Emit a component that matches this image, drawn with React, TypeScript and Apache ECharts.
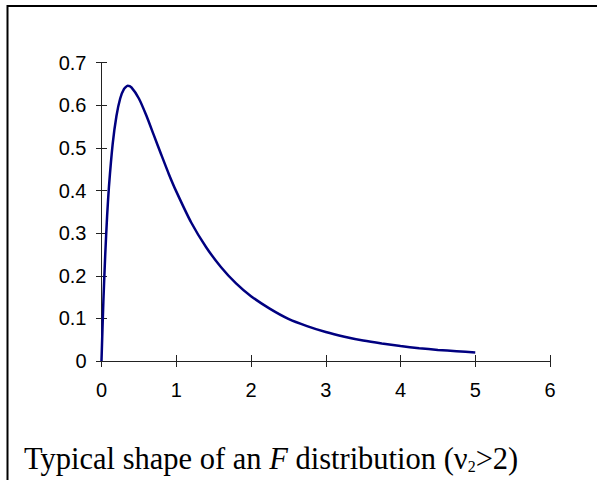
import React, { useEffect, useRef } from "react";
import * as echarts from "echarts";

const xValues = [0, 0.025, 0.05, 0.075, 0.1, 0.15, 0.2, 0.25, 0.3, 0.35, 0.4, 0.5, 0.6, 0.7, 0.8, 0.9, 1.0, 1.2, 1.4, 1.6, 1.8, 2.0, 2.25, 2.5, 2.75, 3.0, 3.25, 3.5, 3.75, 4.0, 4.25, 4.5, 4.75, 5.0];
const densities = [0, 0.14, 0.25, 0.34, 0.41, 0.51, 0.575, 0.616, 0.638, 0.646, 0.642, 0.616, 0.576, 0.53, 0.484, 0.439, 0.398, 0.325, 0.267, 0.22, 0.182, 0.152, 0.123, 0.099, 0.082, 0.068, 0.057, 0.048, 0.041, 0.035, 0.03, 0.026, 0.023, 0.02];
const xTickRange = { min: 0, max: 6, step: 1 };
const yTickRange = { min: 0, max: 0.7, step: 0.1 };
const captionParts = ["Typical shape of an ", "F", " distribution (\u03BD", "2", ">2)"];

export default function App() {
  const ref = useRef<HTMLDivElement>(null);
  useEffect(() => {
    document.body.style.margin = "0";
    const chart = echarts.init(ref.current!, null, { renderer: "svg" });
    const axisColor = "#222";
    const labelFont = { color: "#000", fontSize: 20, fontFamily: "'Liberation Sans', Arial, sans-serif" };
    const serif = "'Liberation Serif', 'Times New Roman', serif";
    chart.setOption({
      animation: false,
      backgroundColor: "#fff",
      grid: { left: 101.5, right: 47, top: 62.7, bottom: 119, containLabel: false },
      xAxis: [
        {
          type: "value", min: xTickRange.min, max: xTickRange.max, interval: xTickRange.step, position: "bottom",
          axisLine: { show: true, onZero: true, lineStyle: { color: axisColor, width: 1 } },
          axisTick: { show: true, inside: false, length: 6, lineStyle: { color: axisColor } },
          axisLabel: { margin: 19, ...labelFont },
          splitLine: { show: false },
        },
        {
          type: "value", min: xTickRange.min, max: xTickRange.max, interval: xTickRange.step, position: "top",
          axisLine: { show: true, onZero: true, lineStyle: { color: axisColor, width: 1 } },
          axisTick: { show: true, inside: false, length: 6, lineStyle: { color: axisColor } },
          axisLabel: { show: false },
          splitLine: { show: false },
        },
      ],
      yAxis: [
        {
          type: "value", min: yTickRange.min, max: yTickRange.max, interval: yTickRange.step, position: "left",
          axisLine: { show: true, onZero: true, lineStyle: { color: axisColor, width: 1 } },
          axisTick: { show: true, inside: false, length: 5.5, lineStyle: { color: axisColor } },
          axisLabel: { margin: 15, ...labelFont },
          splitLine: { show: false },
        },
        {
          type: "value", min: yTickRange.min, max: yTickRange.max, interval: yTickRange.step, position: "right",
          axisLine: { show: true, onZero: true, lineStyle: { color: axisColor, width: 1 } },
          axisTick: { show: true, inside: false, length: 5.5, lineStyle: { color: axisColor } },
          axisLabel: { show: false },
          splitLine: { show: false },
        },
      ],
      series: [
        {
          type: "line",
          xAxisIndex: 0,
          yAxisIndex: 0,
          data: xValues.map((x, i) => [x, densities[i]]),
          symbol: "none",
          showSymbol: false,
          smooth: 0.2,
          clip: false,
          lineStyle: { color: "#000080", width: 2.5 },
        },
      ],
      graphic: [
        {
          type: "rect",
          silent: true,
          shape: { x: 7.5, y: 6, width: 700, height: 600 },
          style: { fill: "none", stroke: "#000", lineWidth: 2 },
        },
        {
          type: "text",
          x: 24,
          y: 440,
          style: {
            text: `{n|${captionParts[0]}}{i|${captionParts[1]}}{n|${captionParts[2]}}{s|${captionParts[3]}}{n|${captionParts[4]}}`,
            rich: {
              n: { fontFamily: serif, fontSize: 30.5, color: "#000", lineHeight: 34, verticalAlign: "bottom" },
              i: { fontFamily: serif, fontSize: 30.5, fontStyle: "italic", color: "#000", lineHeight: 34, verticalAlign: "bottom" },
              s: { fontFamily: serif, fontSize: 16, color: "#000", lineHeight: 16, verticalAlign: "bottom" },
            },
          },
        },
      ],
    });
    return () => chart.dispose();
  }, []);
  return <div ref={ref} style={{ width: 597, height: 480 }} />;
}
